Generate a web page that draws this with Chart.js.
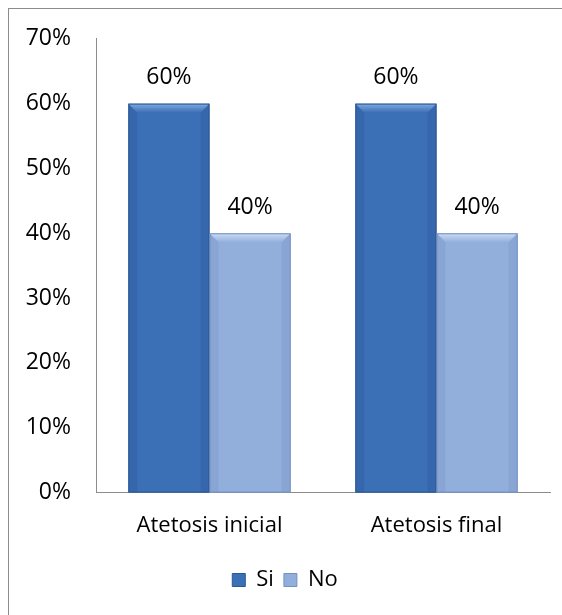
<!DOCTYPE html>
<html>
<head>
<meta charset="utf-8">
<script src="https://cdn.jsdelivr.net/npm/chart.js@4"></script>
<style>
  body { margin: 0; background: #fff; }
  #wrap { position: relative; width: 562px; height: 615px; overflow: hidden; }
  #frame { position: absolute; left: 8px; top: 8px; width: 600px; height: 650px; border: 1px solid #8c8c8c; }
  canvas { position: absolute; left: 0; top: 0; }
</style>
</head>
<body>
<div id="wrap">
  <div id="frame"></div>
  <canvas id="chart" width="562" height="615"></canvas>
</div>
<script>
// --- Data ---
const categories = ['Atetosis inicial', 'Atetosis final'];
const seriesNames = ['Si', 'No'];
const siValues = [60, 60];
const noValues = [40, 40];
const yTicks = [0, 10, 20, 30, 40, 50, 60, 70];

const FONT = "'Open Sans', 'Noto Sans', sans-serif";
const FONT_SIZE = 23;
const SMALL_FONT_SIZE = 22;

// colours for each series: edge, middle, light bevel
const palette = {
    Si: { edge: '#2a5796', mid: '#3b6fb6', light: '#82aae0' },
    No: { edge: '#7490c2', mid: '#92afdc', light: '#cddcf3' }
};

function barGradient(ctx, colors) {
    const chart = ctx.chart;
    const el = ctx.element;
    if (!chart.chartArea || !el || el.width === undefined) return colors.mid;
    const x0 = el.x - el.width / 2;
    const g = chart.ctx.createLinearGradient(x0, 0, x0 + el.width, 0);
    g.addColorStop(0, colors.edge);
    g.addColorStop(0.12, colors.mid);
    g.addColorStop(0.88, colors.mid);
    g.addColorStop(1, colors.edge);
    return g;
}

// --- Bevel + value labels drawn on top of bars ---
const barDecor = {
    id: 'barDecor',
    afterDatasetsDraw(chart) {
        const ctx = chart.ctx;
        chart.data.datasets.forEach((ds, di) => {
            const col = palette[ds.label];
            chart.getDatasetMeta(di).data.forEach((bar, i) => {
                const left = bar.x - bar.width / 2;
                const right = bar.x + bar.width / 2;
                const top = bar.y;
                const bottom = bar.base;
                const b = 9;
                ctx.save();
                // top bevel
                const tg = ctx.createLinearGradient(0, top, 0, top + b);
                tg.addColorStop(0, col.light);
                tg.addColorStop(1, col.mid);
                ctx.beginPath();
                ctx.moveTo(left, top);
                ctx.lineTo(right, top);
                ctx.lineTo(right - b, top + b);
                ctx.lineTo(left + b, top + b);
                ctx.closePath();
                ctx.fillStyle = tg;
                ctx.fill();
                // side bevels
                ctx.globalAlpha = 0.3;
                ctx.fillStyle = col.edge;
                ctx.beginPath();
                ctx.moveTo(left, top);
                ctx.lineTo(left + b, top + b);
                ctx.lineTo(left + b, bottom);
                ctx.lineTo(left, bottom);
                ctx.closePath();
                ctx.fill();
                ctx.beginPath();
                ctx.moveTo(right, top);
                ctx.lineTo(right - b, top + b);
                ctx.lineTo(right - b, bottom);
                ctx.lineTo(right, bottom);
                ctx.closePath();
                ctx.fill();
                ctx.globalAlpha = 1;
                ctx.strokeStyle = col.edge;
                ctx.lineWidth = 1;
                ctx.strokeRect(left + 0.5, top + 0.5, bar.width - 1, bottom - top - 1);
                // value label
                ctx.fillStyle = '#000';
                ctx.font = FONT_SIZE + 'px ' + FONT;
                ctx.textAlign = 'center';
                ctx.textBaseline = 'middle';
                ctx.fillText(ds.data[i] + '%', bar.x, top - 26);
                ctx.restore();
            });
        });
    }
};

const chart = new Chart(document.getElementById('chart'), {
    type: 'bar',
    data: {
        labels: categories,
        datasets: [
            {
                label: seriesNames[0],
                data: siValues,
                backgroundColor: c => barGradient(c, palette.Si),
                borderWidth: 0
            },
            {
                label: seriesNames[1],
                data: noValues,
                backgroundColor: c => barGradient(c, palette.No),
                borderWidth: 0
            }
        ]
    },
    options: {
        responsive: false,
        animation: false,
        layout: { padding: { left: 20, top: 38, right: 12, bottom: 14 } },
        datasets: { bar: { categoryPercentage: 0.715, barPercentage: 1 } },
        scales: {
            y: {
                min: 0,
                max: 70,
                afterBuildTicks: axis => { axis.ticks = yTicks.map(v => ({ value: v })); },
                afterFit: axis => { axis.width = 76; },
                grid: { display: false, drawTicks: false },
                border: { display: true, color: '#8c8c8c', width: 1 },
                ticks: {
                    callback: v => v + '%',
                    color: '#000',
                    padding: 25,
                    font: { family: FONT, size: FONT_SIZE }
                }
            },
            x: {
                grid: { display: false, drawTicks: false },
                border: { display: true, color: '#8c8c8c', width: 1 },
                ticks: {
                    color: '#000',
                    padding: 20,
                    font: { family: FONT, size: SMALL_FONT_SIZE }
                }
            }
        },
        plugins: {
            tooltip: { enabled: false },
            legend: {
                position: 'bottom',
                labels: {
                    color: '#000',
                    boxWidth: 13,
                    boxHeight: 13,
                    padding: 10,
                    font: { family: FONT, size: SMALL_FONT_SIZE },
                    generateLabels: ch => ch.data.datasets.map((ds, i) => ({
                        text: ds.label,
                        fillStyle: palette[ds.label].mid,
                        strokeStyle: palette[ds.label].edge,
                        lineWidth: 1,
                        datasetIndex: i
                    }))
                }
            }
        }
    },
    plugins: [barDecor]
});
</script>
</body>
</html>
